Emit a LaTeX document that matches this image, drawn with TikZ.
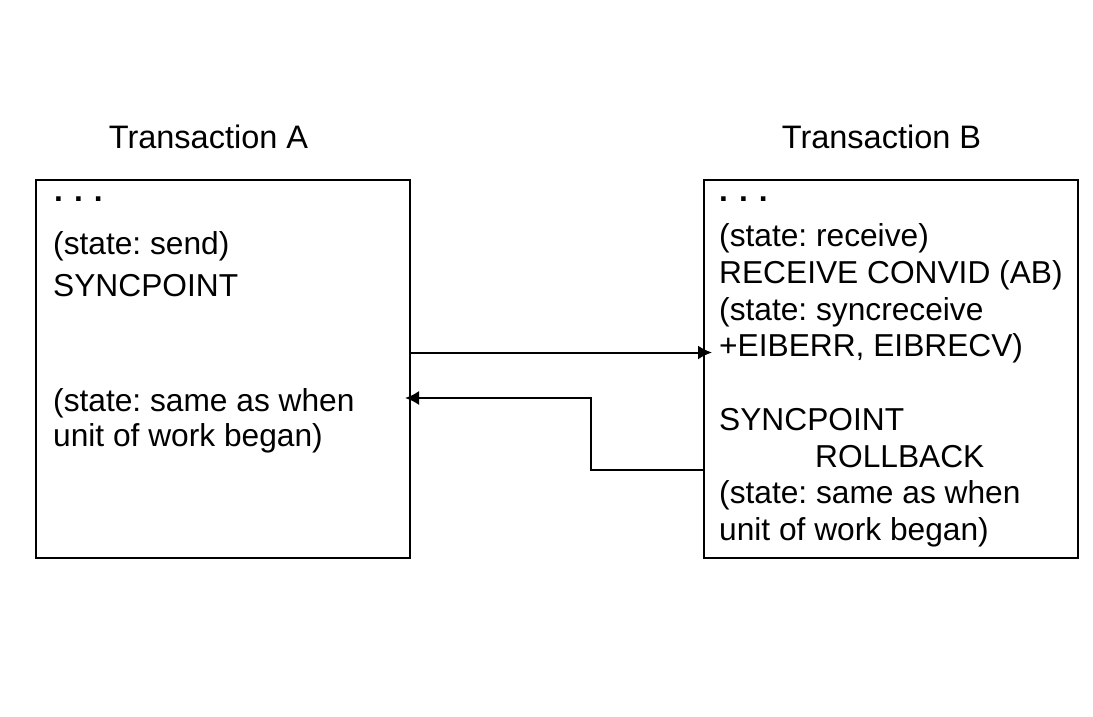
\documentclass[tikz,border=0pt]{standalone}
\usepackage{fontspec}
\setmainfont{Liberation Sans}
\usetikzlibrary{arrows.meta}
\frenchspacing
\begin{document}
\begin{tikzpicture}[x=1pt,y=-1pt,
  box/.style={draw,line width=2pt,inner sep=0pt,anchor=north west},
  txt/.style={anchor=base west,inner sep=0pt,font=\fontsize{31.7}{36}\selectfont},
  ttl/.style={anchor=base,inner sep=0pt,font=\fontsize{32.5}{36}\selectfont},
  dots/.style={anchor=base west,inner sep=0pt,font=\fontsize{31.7}{36}\selectfont\bfseries},
  conn/.style={line width=2pt,-{Latex[length=14pt,width=14pt]}}]
\useasboundingbox[fill=white] (0,0) rectangle (1093,717);
% boxes
\node[box,minimum width=374pt,minimum height=378pt] (boxA) at (35,179) {};
\node[box,minimum width=374pt,minimum height=378pt] (boxB) at (703,179) {};
% titles
\node[ttl] (titleA) at (208.5,148) {Transaction A};
\node[ttl] (titleB) at (881.5,148) {Transaction B};
% text of A
\node[dots] (dA) at (54,201) {.\hspace{11pt}.\hspace{11pt}.};
\node[txt] (a1) at (53,254) {(state: send)};
\node[txt] (a2) at (53,296) {SYNCPOINT};
\node[txt] (a3) at (53,411) {(state: same as when};
\node[txt] (a4) at (53,446) {unit of work began)};
% text of B
\node[dots] (dB) at (719,201) {.\hspace{11pt}.\hspace{11pt}.};
\node[txt] (b1) at (719,246.5) {(state: receive)};
\node[txt] (b2) at (719,283) {RECEIVE CONVID (AB)};
\node[txt] (b3) at (719,320) {(state: syncreceive};
\node[txt] (b4) at (719,356.5) {+EIBERR, EIBRECV)};
\node[txt] (b5) at (719,430) {SYNCPOINT};
\node[txt] (b6) at (815,467) {ROLLBACK};
\node[txt] (b7) at (719,503.5) {(state: same as when};
\node[txt] (b8) at (719,540) {unit of work began)};
% connectors
\coordinate (bend) at (591,470);
\draw[conn] (boxA.east |- 0,352.5) -- ([xshift=9pt]boxB.west |- 0,352.5);
\draw[conn] (boxB.west |- bend) -- (bend) -- (bend |- 0,398) -- ([xshift=-6pt]boxA.east |- 0,398);
\end{tikzpicture}
\end{document}
